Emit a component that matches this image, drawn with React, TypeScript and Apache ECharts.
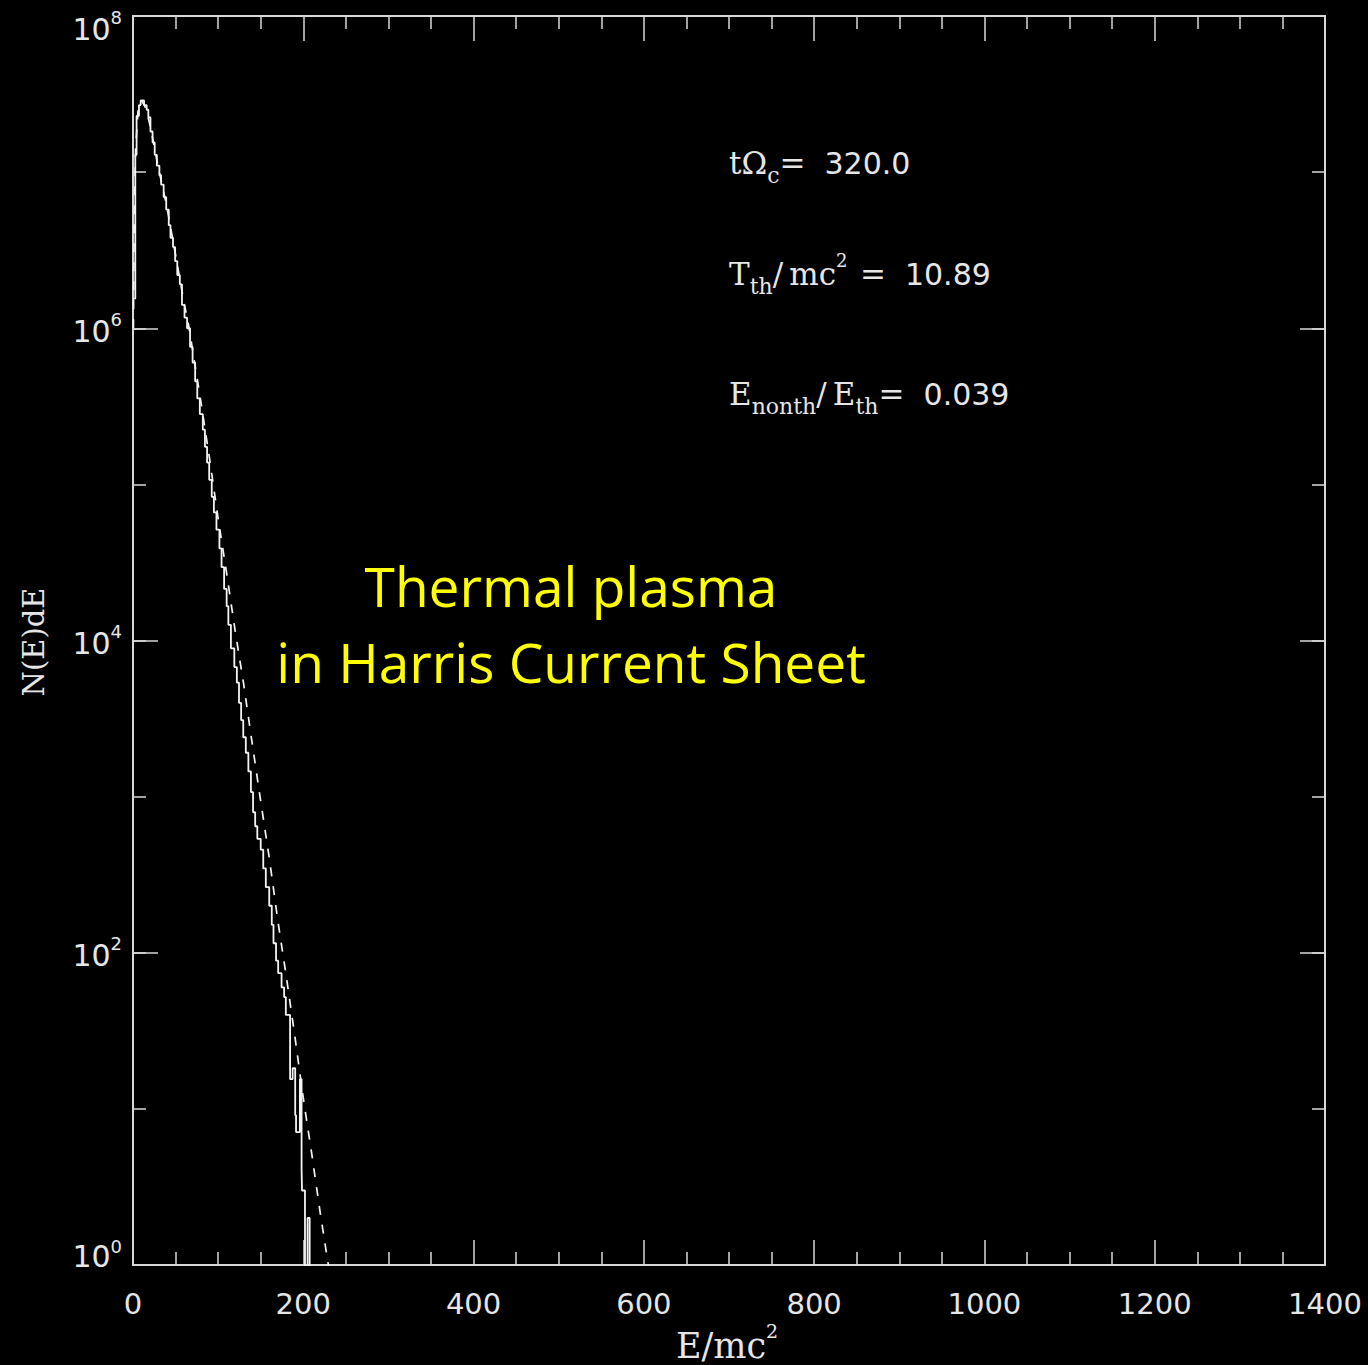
import React, { useEffect, useRef } from 'react';
import * as echarts from 'echarts';

// Histogram of particle energies (left bin edges, E/mc^2) and N(E)dE per bin
const histEdges = [
  0, 2.7, 4.2, 7, 9, 13, 16, 18, 20.5, 23, 25.5, 28, 31, 33, 36, 39, 42, 44, 47, 49.5,
  52, 55, 57.5, 60.5, 63.5, 67, 70, 73, 75.5, 78.5, 82, 84.5, 87, 89.5, 92.5, 95, 98,
  101.5, 104, 107, 110, 112, 115, 119, 122, 124.5, 127, 129.5, 132.5, 135.5, 138.5, 141,
  143.5, 146, 150, 153, 156, 160, 163, 165, 168, 170.5, 174.5, 177.5, 179.5, 184.5, 187.5,
  190.5, 191.5, 196, 198, 198.5, 202, 205, 207.5, 212,
];
const histCounts = [
  1.55e6, 1.29e7, 2.29e7, 2.69e7, 2.88e7, 2.69e7, 2.51e7, 2.24e7, 1.82e7, 1.55e7, 1.29e7,
  1.1e7, 9.55e6, 8.32e6, 6.92e6, 5.75e6, 4.57e6, 3.8e6, 3.31e6, 2.69e6, 2.19e6, 1.91e6,
  1.41e6, 1.17e6, 1.0e6, 7.59e5, 6.03e5, 4.57e5, 3.55e5, 2.82e5, 2.24e5, 1.74e5, 1.38e5,
  1.07e5, 8.32e4, 6.61e4, 5.13e4, 3.89e4, 2.95e4, 2.14e4, 1.66e4, 1.26e4, 8.91e3, 6.76e3,
  5.37e3, 3.98e3, 3.09e3, 2.4e3, 1.91e3, 1.45e3, 1.07e3, 794, 646, 537, 457, 347, 263,
  200, 151, 115, 89, 74, 60, 52, 40, 15.5, 18.2, 9.1, 7.1, 15.5, 4.1, 3.0, 0.001, 2.0,
  0.001, 0.001,
];

// Thermal (Maxwell-Juttner) fit, dashed
const fitEnergy = [
  0.5, 1.5, 3, 6, 10, 15, 20, 25, 30, 35, 40, 50, 60, 66, 70, 80, 90, 100, 110, 120, 130,
  140, 150, 160, 170, 180, 190, 200, 210, 220, 229.4, 235,
];
const fitValues = [
  1.0e6, 5.01e6, 1.41e7, 2.51e7, 2.88e7, 2.57e7, 2.0e7, 1.45e7, 1.05e7, 7.94e6, 5.89e6,
  2.95e6, 1.45e6, 1.0e6, 7.24e5, 3.31e5, 1.45e5, 6.03e4, 2.69e4, 1.15e4, 5.25e3, 2.19e3,
  933, 407, 162, 70.8, 29.5, 11.7, 5.13, 2.14, 1.0, 0.63,
];

const xMin = 0;
const xMax = 1400;
const xStep = 200;
const yMin = 1;
const yMax = 1e8;
const yMajorDecades = 2;
const yMinorDecades = 1;

const annotationLines = [
  '{t|t\u03A9}{sub|c}{t|=}{n|  320.0}',
  '{t|T}{sub|th}{t|/\u2009mc}{sup|2}{t|\u2009\u2009=}{n|  10.89}',
  '{t|E}{sub|nonth}{t|/\u2009E}{sub|th}{t|=}{n|  0.039}',
];
const annotationY = [163, 274, 394];
const overlayLines = ['Thermal plasma', 'in Harris Current Sheet'];
const overlayY = [585, 661];

const FG = '#e6e6e6';
const AX = '#d8d8d8';

export default function App() {
  const ref = useRef<HTMLDivElement>(null);
  useEffect(() => {
    if (!ref.current) return;
    const chart = echarts.init(ref.current, null, { renderer: 'svg' });
    const histData = histEdges.map((e, i) => [e, histCounts[i]]);
    const fitData = fitEnergy.map((e, i) => [e, fitValues[i]]);

    const lineCommon = {
      axisLine: { show: true, lineStyle: { color: AX, width: 2 } },
      splitLine: { show: false },
      minorSplitLine: { show: false },
    };
    const majorTick = { show: true, inside: true, length: 25, lineStyle: { color: AX, width: 1.5 } };
    const minorTickStyle = { show: true, inside: true, length: 13, lineStyle: { color: AX, width: 1.5 } };

    const bBase = { fontFamily: 'DejaVu Sans', fontSize: 30, color: FG, lineHeight: 40 };
    const sBase = { fontFamily: 'DejaVu Sans', fontSize: 18, color: FG, lineHeight: 40 };
    const richLabel = {
      b: { ...bBase, verticalAlign: 'top', padding: [8, 0, 0, 0] },
      s: { ...sBase, verticalAlign: 'top', padding: [2, 0, 0, 0] },
      bt: { ...bBase, verticalAlign: 'top', padding: [18, 0, 0, 0] },
      st: { ...sBase, verticalAlign: 'top', padding: [12, 0, 0, 0] },
      bb: { ...bBase, verticalAlign: 'bottom', padding: [0, 0, 14, 0] },
      sb: { ...sBase, verticalAlign: 'bottom', padding: [0, 0, 30, 0] },
    };

    const yLabelFormatter = (v: number) => {
      const p = Math.round(Math.log10(v));
      if (v >= yMax) return `{bt|10}{st|${p}}`;
      if (v <= yMin) return `{bb|10}{sb|${p}}`;
      return `{b|10}{s|${p}}`;
    };

    const annRich = {
      t: { fontFamily: 'DejaVu Serif', fontSize: 31, fill: FG, lineHeight: 46, verticalAlign: 'middle' },
      n: { fontFamily: 'DejaVu Sans', fontSize: 30, fill: FG, lineHeight: 46, verticalAlign: 'middle' },
      sub: { fontFamily: 'DejaVu Serif', fontSize: 22, fill: FG, lineHeight: 46, verticalAlign: 'bottom' },
      sup: { fontFamily: 'DejaVu Serif', fontSize: 18, fill: FG, lineHeight: 46, verticalAlign: 'top' },
    };

    const yAxisDef = (position: string, decades: number, major: boolean, labels: boolean) => ({
      type: 'log', logBase: 10, min: yMin, max: yMax, interval: decades, position,
      ...lineCommon,
      axisTick: major ? majorTick : minorTickStyle,
      minorTick: { show: false },
      axisLabel: labels
        ? { show: true, margin: 11, formatter: yLabelFormatter, rich: richLabel }
        : { show: false },
      z: major ? 3 : 2,
    });

    chart.setOption({
      animation: false,
      backgroundColor: '#000000',
      grid: { left: 133, right: 43, top: 16, bottom: 100, containLabel: false, outerBoundsMode: 'none' },
      xAxis: [
        {
          type: 'value', min: xMin, max: xMax, interval: xStep, position: 'bottom',
          ...lineCommon,
          axisTick: majorTick,
          minorTick: { ...minorTickStyle, splitNumber: 4 },
          axisLabel: {
            show: true, color: FG, fontFamily: 'DejaVu Sans', fontSize: 29, margin: 24,
            formatter: (v: number) => String(v),
          },
        },
        {
          type: 'value', min: xMin, max: xMax, interval: xStep, position: 'top',
          ...lineCommon,
          axisTick: majorTick,
          minorTick: { ...minorTickStyle, splitNumber: 4 },
          axisLabel: { show: false },
        },
      ],
      yAxis: [
        yAxisDef('left', yMajorDecades, true, true),
        yAxisDef('left', yMinorDecades, false, false),
        yAxisDef('right', yMajorDecades, true, false),
        yAxisDef('right', yMinorDecades, false, false),
      ],
      series: [
        {
          type: 'line', name: 'histogram', data: histData, step: 'end', showSymbol: false,
          symbol: 'none', xAxisIndex: 0, yAxisIndex: 0, clip: true,
          lineStyle: { color: '#f4f4f4', width: 1.8 },
        },
        {
          type: 'line', name: 'fit', data: fitData, showSymbol: false, symbol: 'none',
          xAxisIndex: 0, yAxisIndex: 0, clip: true,
          lineStyle: { color: '#f4f4f4', width: 1.7, type: [9, 10] },
        },
      ],
      graphic: [
        {
          type: 'text', x: 34, y: 642, rotation: Math.PI / 2,
          style: { text: 'N(E)dE', font: '29px "DejaVu Serif"', fill: FG, align: 'center', verticalAlign: 'middle' },
        },
        {
          type: 'text', x: 727, y: 1342,
          style: {
            text: '{a|E/mc}{s|2}', align: 'center', verticalAlign: 'middle', fill: FG,
            rich: {
              a: { fontFamily: 'DejaVu Serif', fontSize: 35, fill: FG, lineHeight: 42, verticalAlign: 'bottom' },
              s: { fontFamily: 'DejaVu Serif', fontSize: 19, fill: FG, lineHeight: 42, verticalAlign: 'top' },
            },
          },
        },
        ...annotationLines.map((txt, i) => ({
          type: 'text', x: 729, y: annotationY[i],
          style: { text: txt, align: 'left', verticalAlign: 'middle', rich: annRich, fill: FG },
        })),
        ...overlayLines.map((txt, i) => ({
          type: 'text', x: 571, y: overlayY[i],
          style: { text: txt, font: '55px "Open Sans"', fill: '#ffff00', align: 'center', verticalAlign: 'middle' },
        })),
      ],
    });
    return () => chart.dispose();
  }, []);
  return (
    <div
      ref={ref}
      style={{ position: 'fixed', left: 0, top: 0, width: 1368, height: 1365, background: '#000' }}
    />
  );
}
